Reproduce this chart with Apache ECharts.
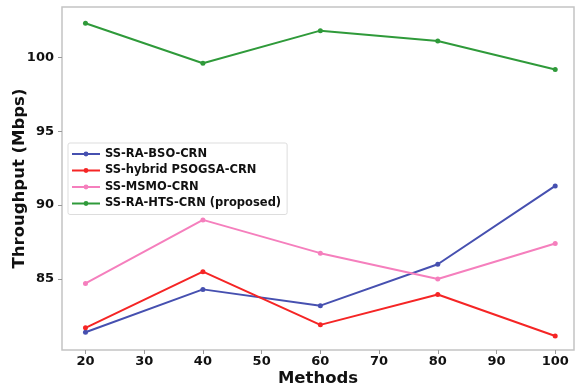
<!DOCTYPE html>
<html>
<head>
<meta charset="utf-8">
<script src="https://cdn.jsdelivr.net/npm/echarts@6/dist/echarts.min.js"></script>
<style>
html, body { margin: 0; padding: 0; background: #fff; }
#main { width: 577px; height: 388px; }
</style>
</head>
<body>
<div id="main"></div>
<script>
var xValues = [20, 40, 60, 80, 100];
var xTicks = [20, 30, 40, 50, 60, 70, 80, 90, 100];
var yTicks = [85, 90, 95, 100];
var seriesNames = ['SS-RA-BSO-CRN', 'SS-hybrid PSOGSA-CRN', 'SS-MSMO-CRN', 'SS-RA-HTS-CRN (proposed)'];
var bso = [81.4, 84.3, 83.2, 86.0, 91.3];
var psogsa = [81.7, 85.5, 81.9, 83.95, 81.15];
var msmo = [84.7, 89.0, 86.75, 85.0, 87.4];
var hts = [102.3, 99.6, 101.8, 101.1, 99.17];
var colors = ['#4650b0', '#f52525', '#f57fbd', '#2f9a3a'];

var allData = [bso, psogsa, msmo, hts];
var font = 'DejaVu Sans';

var myChart = echarts.init(document.getElementById('main'));
var option = {
    animation: false,
    backgroundColor: '#fff',
    grid: { left: 62, top: 7, right: 3, bottom: 38, outerBoundsMode: 'none', containLabel: false },
    legend: {
        orient: 'vertical',
        left: 68, top: 143,
        itemWidth: 28, itemHeight: 6, itemGap: 4.5,
        padding: [5, 6, 5, 3],
        borderColor: '#dddddd', borderWidth: 1, borderRadius: 2,
        backgroundColor: '#fff',
        textStyle: { fontFamily: font, fontWeight: 'bold', fontSize: 11.5, color: '#111' },
        data: seriesNames
    },
    xAxis: {
        type: 'value', min: 16, max: 103.2,
        name: 'Methods', nameLocation: 'middle', nameGap: 20, nameMoveOverlap: false,
        nameTextStyle: { fontFamily: font, fontWeight: 'bold', fontSize: 16.5, color: '#111' },
        axisLine: { show: false, onZero: false },
        axisTick: { show: true, customValues: xTicks, length: 4, lineStyle: { color: '#999' } },
        axisLabel: { customValues: xTicks, fontFamily: font, fontWeight: 'bold', fontSize: 13, color: '#111', margin: 5 },
        splitLine: { show: false }
    },
    yAxis: {
        type: 'value', min: 80.2, max: 103.4,
        name: 'Throughput (Mbps)', nameLocation: 'middle', nameGap: 34, nameMoveOverlap: false,
        nameTextStyle: { fontFamily: font, fontWeight: 'bold', fontSize: 16.5, color: '#111' },
        axisLine: { show: false, onZero: false },
        axisTick: { show: true, customValues: yTicks, length: 4, lineStyle: { color: '#999' } },
        axisLabel: { customValues: yTicks, fontFamily: font, fontWeight: 'bold', fontSize: 13, color: '#111', margin: 8 },
        splitLine: { show: false }
    },
    series: seriesNames.map(function (n, i) {
        return {
            name: n, type: 'line',
            data: xValues.map(function (x, j) { return [x, allData[i][j]]; }),
            symbol: 'circle', symbolSize: 5,
            lineStyle: { width: 2, color: colors[i] },
            itemStyle: { color: colors[i] }
        };
    })
};
myChart.setOption(option);
// box frame like matplotlib spines
myChart.setOption({
    graphic: [{
        type: 'rect', silent: true, z: -1,
        shape: { x: 62, y: 7, width: 512, height: 343 },
        style: { fill: 'none', stroke: '#c4c4c4', lineWidth: 1.5 }
    }]
});
</script>
</body>
</html>
